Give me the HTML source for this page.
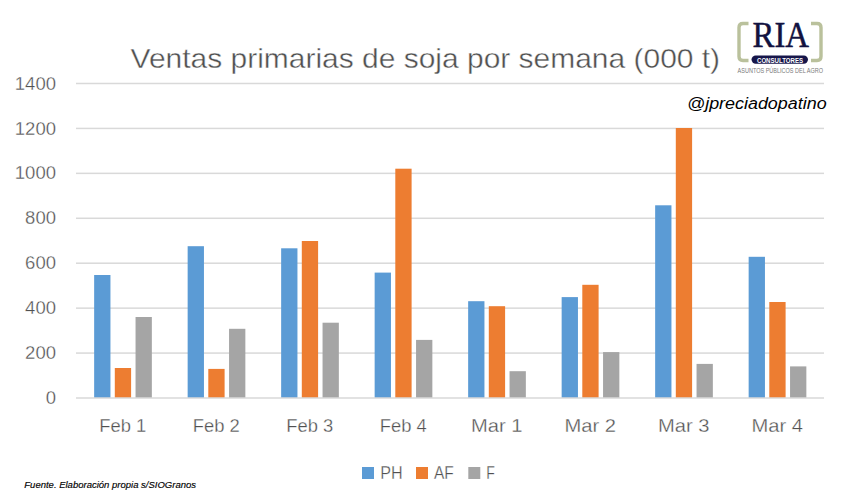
<!DOCTYPE html>
<html><head><meta charset="utf-8"><style>
html,body{margin:0;padding:0;background:#fff;width:846px;height:499px;overflow:hidden}
svg{display:block}
text{font-family:'Liberation Sans',sans-serif}
.th{stroke:#fff;stroke-width:0.3px}
.th2{stroke:#fff;stroke-width:0.4px}
</style></head><body>
<svg width="846" height="499" viewBox="0 0 846 499">
<rect width="846" height="499" fill="#fff"/>
<rect x="76" y="352.32" width="748" height="1.5" fill="#D9D9D9"/>
<rect x="76" y="307.39" width="748" height="1.5" fill="#D9D9D9"/>
<rect x="76" y="262.46" width="748" height="1.5" fill="#D9D9D9"/>
<rect x="76" y="217.53" width="748" height="1.5" fill="#D9D9D9"/>
<rect x="76" y="172.60" width="748" height="1.5" fill="#D9D9D9"/>
<rect x="76" y="127.67" width="748" height="1.5" fill="#D9D9D9"/>
<rect x="76" y="82.74" width="748" height="1.5" fill="#D9D9D9"/>
<rect x="94.15" y="275.00" width="16.3" height="123.00" fill="#5B9BD5"/>
<rect x="114.80" y="368.00" width="16.3" height="30.00" fill="#ED7D31"/>
<rect x="135.55" y="317.00" width="16.3" height="81.00" fill="#A5A5A5"/>
<rect x="187.65" y="246.20" width="16.3" height="151.80" fill="#5B9BD5"/>
<rect x="208.30" y="368.90" width="16.3" height="29.10" fill="#ED7D31"/>
<rect x="229.05" y="328.80" width="16.3" height="69.20" fill="#A5A5A5"/>
<rect x="281.15" y="248.30" width="16.3" height="149.70" fill="#5B9BD5"/>
<rect x="301.80" y="241.00" width="16.3" height="157.00" fill="#ED7D31"/>
<rect x="322.55" y="322.70" width="16.3" height="75.30" fill="#A5A5A5"/>
<rect x="374.65" y="272.60" width="16.3" height="125.40" fill="#5B9BD5"/>
<rect x="395.30" y="168.70" width="16.3" height="229.30" fill="#ED7D31"/>
<rect x="416.05" y="339.90" width="16.3" height="58.10" fill="#A5A5A5"/>
<rect x="468.15" y="301.20" width="16.3" height="96.80" fill="#5B9BD5"/>
<rect x="488.80" y="306.20" width="16.3" height="91.80" fill="#ED7D31"/>
<rect x="509.55" y="371.20" width="16.3" height="26.80" fill="#A5A5A5"/>
<rect x="561.65" y="297.10" width="16.3" height="100.90" fill="#5B9BD5"/>
<rect x="582.30" y="284.80" width="16.3" height="113.20" fill="#ED7D31"/>
<rect x="603.05" y="352.10" width="16.3" height="45.90" fill="#A5A5A5"/>
<rect x="655.15" y="205.30" width="16.3" height="192.70" fill="#5B9BD5"/>
<rect x="675.80" y="128.00" width="16.3" height="270.00" fill="#ED7D31"/>
<rect x="696.55" y="363.90" width="16.3" height="34.10" fill="#A5A5A5"/>
<rect x="748.65" y="256.80" width="16.3" height="141.20" fill="#5B9BD5"/>
<rect x="769.30" y="302.00" width="16.3" height="96.00" fill="#ED7D31"/>
<rect x="790.05" y="366.40" width="16.3" height="31.60" fill="#A5A5A5"/>
<rect x="76" y="397.25" width="748" height="1.5" fill="#D9D9D9"/>
<text class="th" x="56" y="404.10" text-anchor="end" font-size="18" fill="#505050" textLength="10.3" lengthAdjust="spacingAndGlyphs">0</text>
<text class="th" x="56" y="359.17" text-anchor="end" font-size="18" fill="#505050" textLength="30.9" lengthAdjust="spacingAndGlyphs">200</text>
<text class="th" x="56" y="314.24" text-anchor="end" font-size="18" fill="#505050" textLength="30.9" lengthAdjust="spacingAndGlyphs">400</text>
<text class="th" x="56" y="269.31" text-anchor="end" font-size="18" fill="#505050" textLength="30.9" lengthAdjust="spacingAndGlyphs">600</text>
<text class="th" x="56" y="224.38" text-anchor="end" font-size="18" fill="#505050" textLength="30.9" lengthAdjust="spacingAndGlyphs">800</text>
<text class="th" x="56" y="179.45" text-anchor="end" font-size="18" fill="#505050" textLength="41.2" lengthAdjust="spacingAndGlyphs">1000</text>
<text class="th" x="56" y="134.52" text-anchor="end" font-size="18" fill="#505050" textLength="41.2" lengthAdjust="spacingAndGlyphs">1200</text>
<text class="th" x="56" y="89.59" text-anchor="end" font-size="18" fill="#505050" textLength="41.2" lengthAdjust="spacingAndGlyphs">1400</text>
<text class="th" x="122.75" y="432" text-anchor="middle" font-size="18" fill="#505050" textLength="47" lengthAdjust="spacingAndGlyphs">Feb 1</text>
<text class="th" x="216.25" y="432" text-anchor="middle" font-size="18" fill="#505050" textLength="47" lengthAdjust="spacingAndGlyphs">Feb 2</text>
<text class="th" x="309.75" y="432" text-anchor="middle" font-size="18" fill="#505050" textLength="47" lengthAdjust="spacingAndGlyphs">Feb 3</text>
<text class="th" x="403.25" y="432" text-anchor="middle" font-size="18" fill="#505050" textLength="47" lengthAdjust="spacingAndGlyphs">Feb 4</text>
<text class="th" x="496.75" y="432" text-anchor="middle" font-size="18" fill="#505050" textLength="51.5" lengthAdjust="spacingAndGlyphs">Mar 1</text>
<text class="th" x="590.25" y="432" text-anchor="middle" font-size="18" fill="#505050" textLength="51.5" lengthAdjust="spacingAndGlyphs">Mar 2</text>
<text class="th" x="683.75" y="432" text-anchor="middle" font-size="18" fill="#505050" textLength="51.5" lengthAdjust="spacingAndGlyphs">Mar 3</text>
<text class="th" x="777.25" y="432" text-anchor="middle" font-size="18" fill="#505050" textLength="51.5" lengthAdjust="spacingAndGlyphs">Mar 4</text>
<text class="th2" x="130.6" y="68.3" font-size="28" fill="#505050" textLength="589.5" lengthAdjust="spacingAndGlyphs">Ventas primarias de soja por semana (000 t)</text>
<text x="687" y="108.6" font-size="16" font-style="italic" fill="#000" textLength="139.6" lengthAdjust="spacingAndGlyphs">@jpreciadopatino</text>
<text x="24.3" y="487.9" font-size="9.3" font-style="italic" fill="#000" stroke="#000" stroke-width="0.15" textLength="171.7" lengthAdjust="spacingAndGlyphs">Fuente. Elaboración propia s/SIOGranos</text>
<rect x="362" y="467" width="12" height="12" fill="#5B9BD5"/>
<text class="th" x="380.2" y="478.8" font-size="18" fill="#505050" textLength="22.4" lengthAdjust="spacingAndGlyphs">PH</text>
<rect x="416" y="467" width="12" height="12" fill="#ED7D31"/>
<text class="th" x="433.9" y="478.8" font-size="18" fill="#505050" textLength="19.8" lengthAdjust="spacingAndGlyphs">AF</text>
<rect x="468.3" y="467" width="12" height="12" fill="#A5A5A5"/>
<text class="th" x="486.3" y="478.8" font-size="18" fill="#505050" textLength="8.6" lengthAdjust="spacingAndGlyphs">F</text>

<g>
<path d="M748.5 23.5 H743 Q739 23.5 739 27.5 V56.5 Q739 60.5 743 60.5 H748.5" fill="none" stroke="#BAC19C" stroke-width="3.4"/>
<path d="M811 23.5 H817 Q821 23.5 821 27.5 V56.5 Q821 60.5 817 60.5 H811" fill="none" stroke="#BAC19C" stroke-width="3.4"/>
<text x="752.5" y="47" style="font-family:'Liberation Serif',serif" font-size="36.5" fill="#121240" stroke="#121240" stroke-width="0.5" textLength="56.5" lengthAdjust="spacingAndGlyphs">RIA</text>
<rect x="751.5" y="55.4" width="56.5" height="8.4" rx="4.2" fill="#16164A"/>
<text x="757" y="62.5" font-size="7.5" font-weight="bold" fill="#fff" textLength="46" lengthAdjust="spacingAndGlyphs">CONSULTORES</text>
<text x="737.6" y="72.5" font-size="6.5" fill="#7a7a7a" textLength="85.4" lengthAdjust="spacingAndGlyphs">ASUNTOS PÚBLICOS DEL AGRO</text>
</g>
</svg>
</body></html>
